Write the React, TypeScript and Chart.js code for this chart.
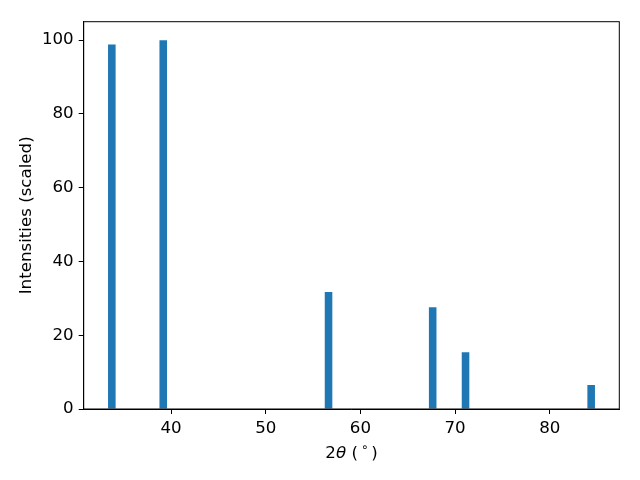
import React, { useEffect, useRef } from "react";
import { Chart, registerables } from "chart.js";

Chart.register(...registerables);

// Peak positions (2θ, degrees) and scaled intensities
const angles = [33.74, 39.17, 56.63, 67.63, 71.1, 84.37];
const intensities = [98.8, 100, 31.7, 27.6, 15.4, 6.5];
const xTickValues = [40, 50, 60, 70, 80];
const yTickValues = [0, 20, 40, 60, 80, 100];
const barWidthDeg = 0.8;
const yTitle = "Intensities (scaled)";

const FONT = "DejaVu Sans";
const FS = 16.67;
const BLUE = "#1f77b4";

export default function App() {
  const ref = useRef<HTMLCanvasElement | null>(null);

  useEffect(() => {
    const canvas = ref.current;
    if (!canvas) return;

    const lo = Math.min(...angles) - barWidthDeg / 2;
    const hi = Math.max(...angles) + barWidthDeg / 2;
    const m = 0.05 * (hi - lo);
    const sorted = [...angles].sort((a, b) => a - b);
    let minGap = Infinity;
    for (let i = 1; i < sorted.length; i++) minGap = Math.min(minGap, sorted[i] - sorted[i - 1]);

    const framePlugin = {
      id: "frame",
      afterDraw(chart: any) {
        const { ctx, chartArea } = chart;
        const { left, top, right, bottom } = chartArea;
        ctx.save();
        ctx.strokeStyle = "#000";
        ctx.lineWidth = 1;
        ctx.strokeRect(left, top, right - left, bottom - top);

        // y title
        ctx.fillStyle = "#000";
        ctx.font = `${FS}px "${FONT}"`;
        ctx.textAlign = "center";
        ctx.textBaseline = "middle";
        ctx.translate(26.5, (top + bottom) / 2);
        ctx.rotate(-Math.PI / 2);
        ctx.fillText(yTitle, 0, 0);
        ctx.restore();

        // x title: 2θ ( ∘ )
        ctx.save();
        ctx.fillStyle = "#000";
        ctx.textBaseline = "alphabetic";
        ctx.textAlign = "left";
        const reg = `${FS}px "${FONT}"`;
        const ital = `italic ${FS}px "${FONT}"`;
        const small = `${FS * 0.7}px "${FONT}"`;
        const parts: { t: string; f: string; dy: number; gapAfter: number }[] = [
          { t: "2", f: reg, dy: 0, gapAfter: 0 },
          { t: "θ", f: ital, dy: 0, gapAfter: 0 },
          { t: " (", f: reg, dy: 0, gapAfter: 3 },
          { t: "∘", f: small, dy: -7, gapAfter: 3 },
          { t: ")", f: reg, dy: 0, gapAfter: 0 },
        ];
        let total = 0;
        for (const p of parts) {
          ctx.font = p.f;
          total += ctx.measureText(p.t).width + p.gapAfter;
        }
        let x = (left + right) / 2 - total / 2;
        const base = 458;
        for (const p of parts) {
          ctx.font = p.f;
          ctx.fillText(p.t, x, base + p.dy);
          x += ctx.measureText(p.t).width + p.gapAfter;
        }
        ctx.restore();
      },
    };

    const chart = new Chart(canvas, {
      type: "bar",
      data: {
        datasets: [
          {
            data: angles.map((a, i) => ({ x: a, y: intensities[i] })),
            backgroundColor: BLUE,
            borderWidth: 0,
            categoryPercentage: 1,
            barPercentage: barWidthDeg / minGap,
          },
        ],
      },
      options: {
        responsive: false,
        animation: false,
        devicePixelRatio: 1,
        layout: { padding: { top: 21.7, right: 20.7, left: 0, bottom: 0 } },
        plugins: { legend: { display: false }, tooltip: { enabled: false } },
        scales: {
          x: {
            type: "linear",
            offset: false,
            min: lo - m,
            max: hi + m,
            afterBuildTicks: (s: any) => {
              s.ticks = xTickValues.map((v) => ({ value: v }));
            },
            afterFit: (s: any) => {
              s.height = 480 - 409;
            },
            grid: {
              display: true,
              drawOnChartArea: false,
              drawTicks: true,
              tickLength: 5,
              tickColor: "#000",
              offset: false,
            },
            border: { display: true, color: "#000", width: 1 },
            ticks: {
              color: "#000",
              font: { family: FONT, size: FS },
              padding: 5,
              maxRotation: 0,
            },
          },
          y: {
            type: "linear",
            min: 0,
            max: 105,
            afterBuildTicks: (s: any) => {
              s.ticks = yTickValues.map((v) => ({ value: v }));
            },
            afterFit: (s: any) => {
              s.width = 83.7;
            },
            grid: {
              display: true,
              drawOnChartArea: false,
              drawTicks: true,
              tickLength: 5,
              tickColor: "#000",
            },
            border: { display: true, color: "#000", width: 1 },
            ticks: {
              color: "#000",
              font: { family: FONT, size: FS },
              padding: 5,
            },
          },
        },
      },
      plugins: [framePlugin],
    } as any);

    return () => chart.destroy();
  }, []);

  return (
    <div style={{ position: "fixed", left: 0, top: 0, width: 640, height: 480, background: "#fff" }}>
      <canvas ref={ref} width={640} height={480} style={{ display: "block", width: 640, height: 480 }} />
    </div>
  );
}
